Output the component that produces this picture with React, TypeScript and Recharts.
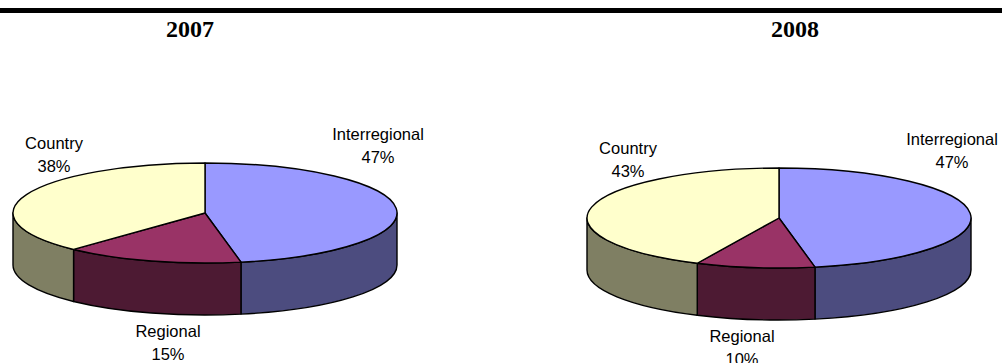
import React from 'react';
import { PieChart, Pie, Cell } from 'recharts';

const years = ['2007', '2008'];
const categories = ['Interregional', 'Regional', 'Country'];
const values2007 = [47, 15, 38];
const values2008 = [47, 10, 43];

const topColors: Record<string, string> = {
  Interregional: '#9999FF',
  Regional: '#993366',
  Country: '#FFFFCC',
};
const sideColors: Record<string, string> = {
  Interregional: '#4C4C7F',
  Regional: '#4D1A33',
  Country: '#7F7F63',
};
// where the two-line label block sits, relative to the pie centre
const labelOffsets: Record<string, { dx: number; dy: number }> = {
  Interregional: { dx: 173, dy: -79.5 },
  Regional: { dx: -37, dy: 117.5 },
  Country: { dx: -151, dy: -70.5 },
};

const RAD = Math.PI / 180;
const RADIUS = 192;
const TILT = 50 / 192;
const DEPTH = 52;

const makeData = (values: number[]) =>
  categories.map((name, i) => ({ name, value: values[i] }));

const data2007 = makeData(values2007);
const data2008 = makeData(values2008);

// draws one slice as a tilted 3D wedge: visible front wall + top face
const Slice3D = (props: any) => {
  const { cx, cy, outerRadius, startAngle, endAngle, payload } = props;
  const name = payload?.name ?? props.name;
  const rx = outerRadius;
  const ry = outerRadius * TILT;
  const pt = (a: number, dy = 0) =>
    `${cx + rx * Math.cos(a * RAD)},${cy - ry * Math.sin(a * RAD) + dy}`;
  const hi = Math.max(startAngle, endAngle);
  const lo = Math.min(startAngle, endAngle);
  const large = hi - lo > 180 ? 1 : 0;
  const top = `M${cx},${cy} L${pt(hi)} A${rx},${ry} 0 ${large} 1 ${pt(lo)} Z`;

  // front half of the rim lies where sin < 0, i.e. angles in (-180, 0)
  const wHi = Math.min(hi, 0);
  const wLo = Math.max(lo, -180);
  let wall: string | null = null;
  if (wHi > wLo) {
    wall =
      `M${pt(wHi)} A${rx},${ry} 0 0 1 ${pt(wLo)} ` +
      `L${pt(wLo, DEPTH)} A${rx},${ry} 0 0 0 ${pt(wHi, DEPTH)} Z`;
  }
  return (
    <g>
      {wall && (
        <path d={wall} fill={sideColors[name]} stroke="#000" strokeWidth={1.4} strokeLinejoin="round" />
      )}
      <path d={top} fill={topColors[name]} stroke="#000" strokeWidth={1.4} strokeLinejoin="round" />
    </g>
  );
};

const renderLabel = (props: any) => {
  const { cx, cy, payload, value } = props;
  const name = payload?.name ?? props.name;
  const off = labelOffsets[name];
  const x = cx + off.dx;
  const y = cy + off.dy;
  return (
    <g>
      <text x={x} y={y} textAnchor="middle" dominantBaseline="central" fill="#000"
        style={{ fontFamily: '"Liberation Sans", Arial, sans-serif', fontSize: 16.5 }}>
        {name}
      </text>
      <text x={x} y={y + 23} textAnchor="middle" dominantBaseline="central" fill="#000"
        style={{ fontFamily: '"Liberation Sans", Arial, sans-serif', fontSize: 16.5 }}>
        {`${value}%`}
      </text>
    </g>
  );
};

const titleStyle: React.CSSProperties = {
  position: 'absolute',
  top: 15,
  width: 120,
  textAlign: 'center',
  fontFamily: '"Liberation Serif", "Times New Roman", serif',
  fontWeight: 'bold',
  fontSize: 24,
  lineHeight: '28px',
};

export default function App() {
  return (
    <div style={{ position: 'absolute', left: 0, top: 0, width: 1002, height: 363, background: '#fff', overflow: 'hidden' }}>
      <div style={{ position: 'absolute', left: 0, top: 8, width: 1002, height: 5, background: '#000' }} />
      <div style={{ ...titleStyle, left: 190 - 60 }}>{years[0]}</div>
      <div style={{ ...titleStyle, left: 795 - 60 }}>{years[1]}</div>
      <div style={{ position: 'absolute', left: 0, top: 0 }}>
        <PieChart width={1002} height={363} margin={{ top: 0, right: 0, bottom: 0, left: 0 }}>
          <Pie
            data={data2007}
            dataKey="value"
            nameKey="name"
            cx={205}
            cy={213}
            innerRadius={0}
            outerRadius={RADIUS}
            startAngle={90}
            endAngle={-270}
            shape={Slice3D}
            activeShape={Slice3D}
            inactiveShape={Slice3D}
            label={renderLabel}
            labelLine={false}
            isAnimationActive={false}
          >
            {data2007.map((d) => (
              <Cell key={d.name} fill={topColors[d.name]} />
            ))}
          </Pie>
          <Pie
            data={data2008}
            dataKey="value"
            nameKey="name"
            cx={779}
            cy={218}
            innerRadius={0}
            outerRadius={RADIUS}
            startAngle={90}
            endAngle={-270}
            shape={Slice3D}
            activeShape={Slice3D}
            inactiveShape={Slice3D}
            label={renderLabel}
            labelLine={false}
            isAnimationActive={false}
          >
            {data2008.map((d) => (
              <Cell key={d.name} fill={topColors[d.name]} />
            ))}
          </Pie>
        </PieChart>
      </div>
    </div>
  );
}
